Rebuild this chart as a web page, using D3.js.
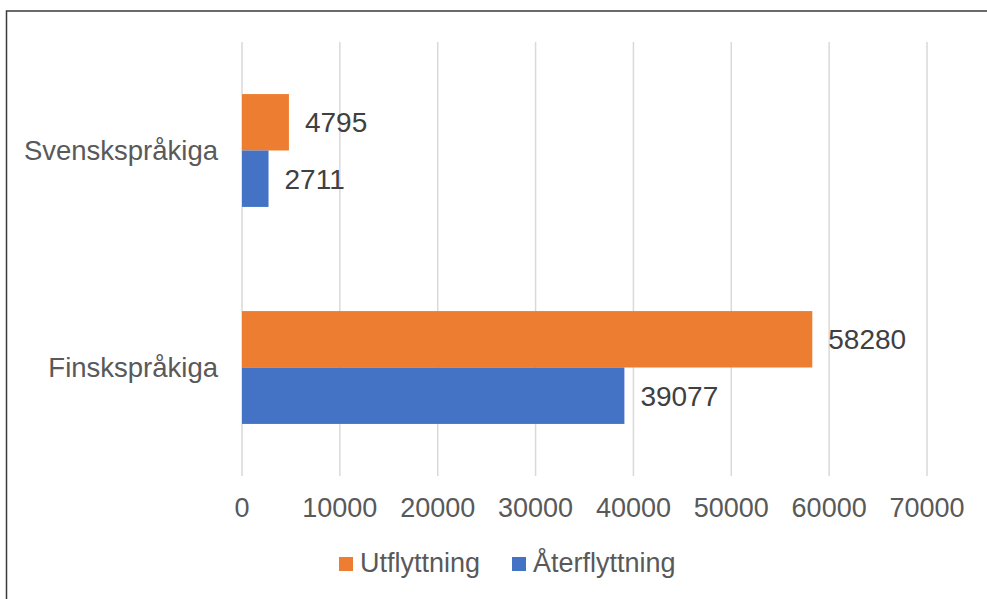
<!DOCTYPE html>
<html>
<head>
<meta charset="utf-8">
<script src="https://cdn.jsdelivr.net/npm/d3@7"></script>
<style>
  body { margin: 0; background: #fff; }
  svg { display: block; font-family: 'Liberation Sans', Arial, sans-serif; }
</style>
</head>
<body>
<svg id="chart" width="987" height="599"></svg>
<script>
// Data
const categories = ['Svenskspråkiga', 'Finskspråkiga']
const seriesNames = ['Utflyttning', 'Återflyttning']
const utflyttning = [4795, 58280]
const aterflyttning = [2711, 39077]
const xTicks = [0, 10000, 20000, 30000, 40000, 50000, 60000, 70000]
const colors = ['#ED7D31', '#4472C4']

const svg = d3.select('#chart')

// Outer frame (only top and left edges are visible in the crop)
svg.append('rect')
  .attr('x', 6.5).attr('y', 11)
  .attr('width', 1100).attr('height', 700)
  .attr('fill', 'none')
  .attr('stroke', '#3a3a3a')
  .attr('stroke-width', 1.5)

const plot = { top: 42, bottom: 476, left: 242, right: 927 }

const xScale = d3.scaleLinear()
  .domain([0, 70000])
  .range([plot.left, plot.right])

const yScale = d3.scaleBand()
  .domain(categories)
  .range([plot.top, plot.bottom])
  .paddingInner(0.48)
  .paddingOuter(0.24)

const seriesScale = d3.scaleBand()
  .domain(seriesNames)
  .range([0, yScale.bandwidth()])

// Gridlines
svg.append('g')
  .selectAll('line')
  .data(xTicks)
  .enter()
  .append('line')
  .attr('x1', d => xScale(d)).attr('x2', d => xScale(d))
  .attr('y1', plot.top).attr('y2', plot.bottom)
  .attr('stroke', '#d9d9d9')
  .attr('stroke-width', 1.5)

// Tick labels
svg.append('g')
  .selectAll('text')
  .data(xTicks)
  .enter()
  .append('text')
  .attr('x', d => xScale(d))
  .attr('y', 517)
  .attr('text-anchor', 'middle')
  .attr('font-size', 27)
  .attr('fill', '#595959')
  .text(d => d)

// Bars, one group per category
const rows = categories.map((c, i) => ({
  category: c,
  values: [utflyttning[i], aterflyttning[i]]
}))

const groups = svg.append('g')
  .selectAll('g')
  .data(rows)
  .enter()
  .append('g')
  .attr('transform', d => `translate(0, ${yScale(d.category)})`)

groups.selectAll('rect')
  .data(d => d.values.map((v, j) => ({ name: seriesNames[j], value: v, color: colors[j] })))
  .enter()
  .append('rect')
  .attr('x', xScale(0))
  .attr('y', d => seriesScale(d.name))
  .attr('width', d => xScale(d.value) - xScale(0))
  .attr('height', seriesScale.bandwidth())
  .attr('fill', d => d.color)

groups.selectAll('text.value')
  .data(d => d.values.map((v, j) => ({ name: seriesNames[j], value: v })))
  .enter()
  .append('text')
  .attr('class', 'value')
  .attr('x', d => xScale(d.value) + 16)
  .attr('y', d => seriesScale(d.name) + seriesScale.bandwidth() / 2 + 10)
  .attr('font-size', 28)
  .attr('fill', '#404040')
  .text(d => d.value)

// Category labels
svg.append('g')
  .selectAll('text')
  .data(categories)
  .enter()
  .append('text')
  .attr('x', 218)
  .attr('y', d => yScale(d) + yScale.bandwidth() / 2 + 9)
  .attr('text-anchor', 'end')
  .attr('font-size', 27.5)
  .attr('fill', '#595959')
  .text(d => d)

// Legend
const legendX = [339, 512]
const legend = svg.append('g')
  .selectAll('g')
  .data(seriesNames)
  .enter()
  .append('g')
  .attr('transform', (d, i) => `translate(${legendX[i]}, 557)`)

legend.append('rect')
  .attr('width', 14).attr('height', 14)
  .attr('fill', (d, i) => colors[i])

legend.append('text')
  .attr('x', 21)
  .attr('y', 15)
  .attr('font-size', 27)
  .attr('fill', '#595959')
  .text(d => d)
</script>
</body>
</html>
